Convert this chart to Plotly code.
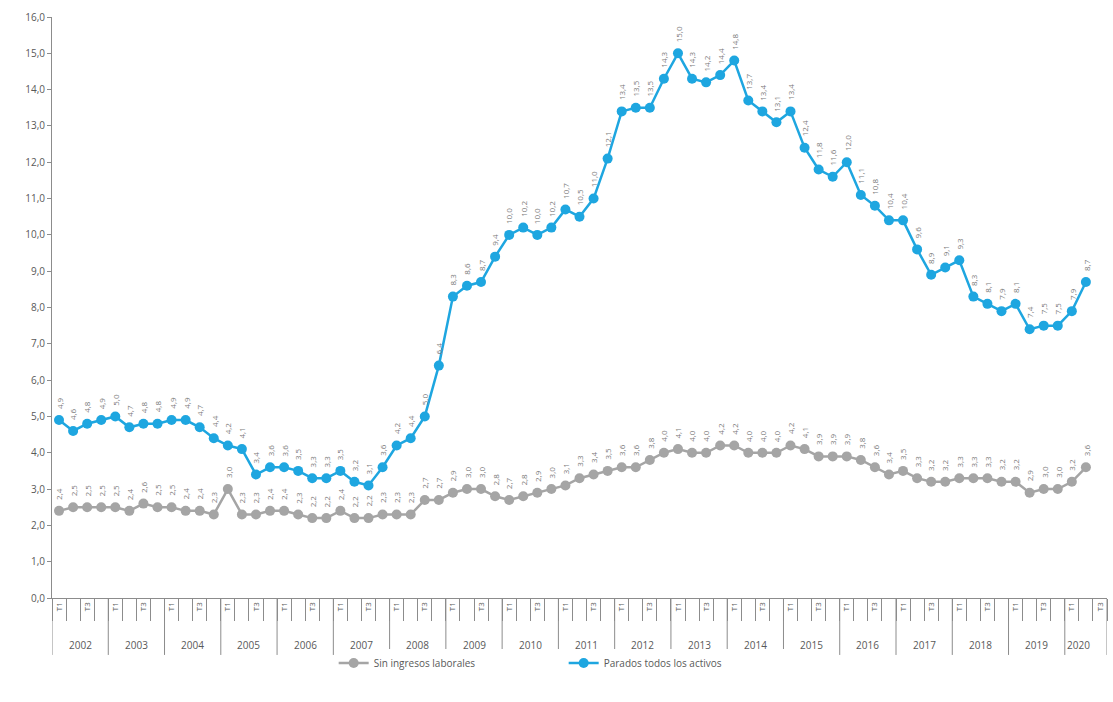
import plotly.graph_objects as go

years = [str(y) for y in range(2002, 2021)]
quarter_names = ["T1", "T2", "T3", "T4"]

sin_ingresos = [2.4, 2.5, 2.5, 2.5, 2.5, 2.4, 2.6, 2.5, 2.5, 2.4, 2.4, 2.3,
                3.0, 2.3, 2.3, 2.4, 2.4, 2.3, 2.2, 2.2, 2.4, 2.2, 2.2, 2.3,
                2.3, 2.3, 2.7, 2.7, 2.9, 3.0, 3.0, 2.8, 2.7, 2.8, 2.9, 3.0,
                3.1, 3.3, 3.4, 3.5, 3.6, 3.6, 3.8, 4.0, 4.1, 4.0, 4.0, 4.2,
                4.2, 4.0, 4.0, 4.0, 4.2, 4.1, 3.9, 3.9, 3.9, 3.8, 3.6, 3.4,
                3.5, 3.3, 3.2, 3.2, 3.3, 3.3, 3.3, 3.2, 3.2, 2.9, 3.0, 3.0,
                3.2, 3.6]

parados = [4.9, 4.6, 4.8, 4.9, 5.0, 4.7, 4.8, 4.8, 4.9, 4.9, 4.7, 4.4,
           4.2, 4.1, 3.4, 3.6, 3.6, 3.5, 3.3, 3.3, 3.5, 3.2, 3.1, 3.6,
           4.2, 4.4, 5.0, 6.4, 8.3, 8.6, 8.7, 9.4, 10.0, 10.2, 10.0, 10.2,
           10.7, 10.5, 11.0, 12.1, 13.4, 13.5, 13.5, 14.3, 15.0, 14.3, 14.2, 14.4,
           14.8, 13.7, 13.4, 13.1, 13.4, 12.4, 11.8, 11.6, 12.0, 11.1, 10.8, 10.4,
           10.4, 9.6, 8.9, 9.1, 9.3, 8.3, 8.1, 7.9, 8.1, 7.4, 7.5, 7.5,
           7.9, 8.7]

series_names = ["Sin ingresos laborales", "Parados todos los activos"]
series_colors = ["#A5A5A5", "#1EA6E0"]

n = len(parados)
slots = n + 1  # axis keeps one extra empty quarter slot for 2020
x_idx = list(range(n))
q_year = [years[i // 4] for i in range(slots)]
q_name = [quarter_names[i % 4] for i in range(slots)]

TXT = "#595959"
AX = "#8C8C8C"
FONT = "Open Sans"

fig = go.Figure()
for vals, name, col in zip([sin_ingresos, parados], series_names, series_colors):
    fig.add_trace(go.Scatter(
        x=x_idx, y=vals, name=name, mode="lines+markers",
        line=dict(color=col, width=2.5),
        marker=dict(color=col, size=10, symbol="circle"),
        cliponaxis=False,
    ))

annotations = []
for vals in [sin_ingresos, parados]:
    for i, v in enumerate(vals):
        annotations.append(dict(
            x=i, y=v, xref="x", yref="y", text=f"{v:.1f}".replace(".", ","),
            textangle=-90, showarrow=False, xanchor="center", yanchor="bottom",
            yshift=9, font=dict(family=FONT, size=8, color="#7A7A7A"),
        ))

# year labels (centered on each year's quarters that carry data)
for y in years:
    idx = [i for i in x_idx if q_year[i] == y]
    annotations.append(dict(
        x=sum(idx) / len(idx), y=-0.081, xref="x", yref="paper", text=y,
        showarrow=False, xanchor="center", yanchor="middle",
        font=dict(family=FONT, size=10, color=TXT),
    ))

shapes = []
year_bounds = [i - 0.5 for i in range(0, slots, 4)] + [slots - 0.5]
for b in year_bounds:
    shapes.append(dict(type="line", xref="x", yref="paper", x0=b, x1=b,
                       y0=0, y1=-0.098, line=dict(color=AX, width=1)))

tick_vals = list(range(slots))
tick_text = [q if q in ("T1", "T3") else "" for q in q_name]

fig.update_layout(
    width=1113, height=702,
    margin=dict(l=52, r=6, t=17, b=104),
    paper_bgcolor="white", plot_bgcolor="white",
    separators=",.",
    font=dict(family=FONT, size=10, color=TXT),
    showlegend=True,
    legend=dict(orientation="h", x=0.485, xanchor="center", y=-0.112, yanchor="middle",
                font=dict(family=FONT, size=10, color=TXT), itemwidth=30,
                entrywidth=185),
    annotations=annotations,
    shapes=shapes,
    xaxis=dict(
        range=[-0.5, slots - 0.5], showgrid=False, zeroline=False,
        showline=True, linecolor=AX, linewidth=1,
        tickmode="array", tickvals=tick_vals, ticktext=tick_text,
        tickangle=-90, ticks="", tickfont=dict(family=FONT, size=8, color=TXT),
        minor=dict(tickmode="array", tickvals=[i - 0.5 for i in range(slots + 1)],
                   ticks="outside", ticklen=22, tickcolor=AX, tickwidth=1,
                   showgrid=False),
    ),
    yaxis=dict(
        range=[0, 16], dtick=1, tick0=0, tickformat=".1f",
        showgrid=False, zeroline=False, showline=True, linecolor=AX, linewidth=1,
        ticks="outside", ticklen=4, tickcolor=AX,
        tickfont=dict(family=FONT, size=10, color=TXT),
    ),
)

fig.write_html("out.html")
